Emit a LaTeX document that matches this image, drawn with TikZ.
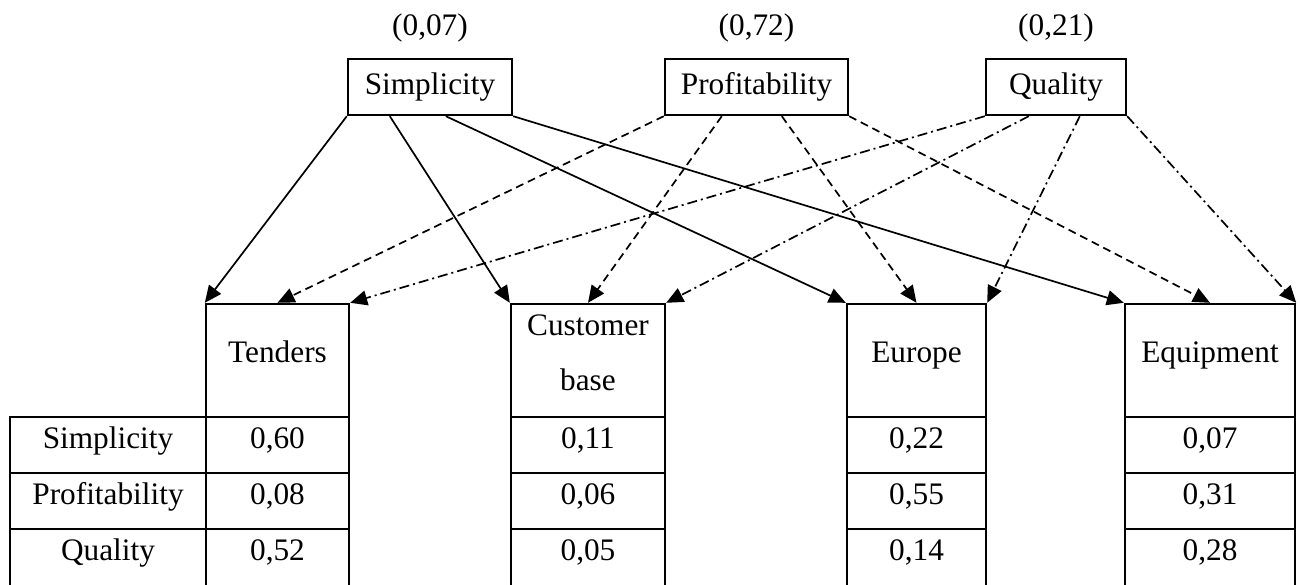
\documentclass[tikz,border=0pt]{standalone}
\usepackage{fontspec}
\setmainfont{Liberation Serif}
\usetikzlibrary{arrows.meta,calc}

\begin{document}
\begin{tikzpicture}[x=1pt,y=-1pt,
  every node/.style={font=\fontsize{31.3}{55}\selectfont, inner sep=0pt},
  crit/.style={draw, line width=2.4pt, minimum height=56pt, text height=22pt, text depth=6pt},
  weight/.style={anchor=base},
  head/.style={draw, line width=2.4pt, minimum height=113pt, text height=22pt, text depth=19pt},
  cell/.style={draw, line width=2.4pt, minimum height=56pt, text height=22pt, text depth=16pt},
  lastcell/.style={draw, line width=2.4pt, minimum height=64pt, text height=16pt, text depth=18pt},
  link/.style={line width=1.7pt, -{Triangle[length=17pt,width=15pt]}},
  solidlink/.style={link},
  dashlink/.style={link, dash pattern=on 8pt off 5pt},
  dotlink/.style={link, dash pattern=on 10pt off 4pt on 2pt off 4pt},
]
\useasboundingbox (0,0) rectangle (1300,585);

% criteria with their weights
\node[crit, minimum width=164pt] (simp) at (430,87) {Simplicity};
\node[crit, minimum width=183pt] (prof) at (756.5,87) {Profitability};
\node[crit, minimum width=140pt] (qual) at (1056,87) {Quality};
\node[weight] (wsimp) at ($(simp.north)+(0,-22)$) {(0,07)};
\node[weight] (wprof) at ($(prof.north)+(0,-22)$) {(0,72)};
\node[weight] (wqual) at ($(qual.north)+(0,-22)$) {(0,21)};

% alternatives
\node[head, minimum width=143pt] (tend) at (277.5,360.5) {Tenders};
\node[draw, line width=2.4pt, minimum width=154pt, minimum height=113pt,
      align=center, text height=76pt, text depth=17pt] (cust) at (588,360.5) {Customer\\base};
\node[head, minimum width=139pt] (euro) at (916.5,360.5) {Europe};
\node[head, minimum width=170pt] (equi) at (1210,360.5) {Equipment};

% row labels
\node[cell, minimum width=196pt] (rs) at (108,445) {Simplicity};
\node[cell, minimum width=196pt] (rp) at (108,501) {Profitability};
\node[lastcell, minimum width=196pt] (rq) at (108,561) {Quality};

% local priorities
\node[cell, minimum width=143pt] (t1) at (277.5,445) {0,60};
\node[cell, minimum width=143pt] (t2) at (277.5,501) {0,08};
\node[lastcell, minimum width=143pt] (t3) at (277.5,561) {0,52};

\node[cell, minimum width=154pt] (c1) at (588,445) {0,11};
\node[cell, minimum width=154pt] (c2) at (588,501) {0,06};
\node[lastcell, minimum width=154pt] (c3) at (588,561) {0,05};

\node[cell, minimum width=139pt] (e1) at (916.5,445) {0,22};
\node[cell, minimum width=139pt] (e2) at (916.5,501) {0,55};
\node[lastcell, minimum width=139pt] (e3) at (916.5,561) {0,14};

\node[cell, minimum width=170pt] (q1) at (1210,445) {0,07};
\node[cell, minimum width=170pt] (q2) at (1210,501) {0,31};
\node[lastcell, minimum width=170pt] (q3) at (1210,561) {0,28};

% Simplicity links
\draw[solidlink] (simp.south west) -- (tend.north west);
\draw[solidlink] ($(simp.south west)+(43,0)$) -- (cust.north west);
\draw[solidlink] ($(simp.south west)+(99,0)$) -- (euro.north west);
\draw[solidlink] (simp.south east) -- (equi.north west);

% Profitability links
\draw[dashlink] (prof.south west) -- (tend.north);
\draw[dashlink] ($(prof.south west)+(58,0)$) -- (cust.north);
\draw[dashlink] ($(prof.south west)+(118,0)$) -- (euro.north);
\draw[dashlink] (prof.south east) -- (equi.north);

% Quality links
\draw[dotlink] (qual.south west) -- (tend.north east);
\draw[dotlink] ($(qual.south west)+(44,0)$) -- (cust.north east);
\draw[dotlink] ($(qual.south west)+(95,0)$) -- (euro.north east);
\draw[dotlink] (qual.south east) -- (equi.north east);
\end{tikzpicture}
\end{document}
